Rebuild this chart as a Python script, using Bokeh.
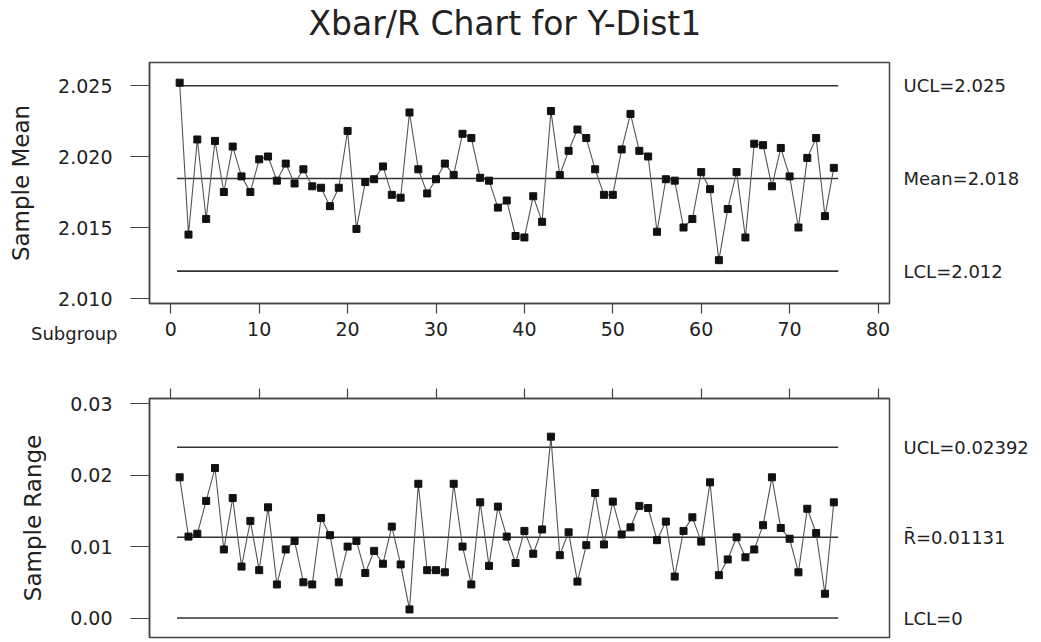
from bokeh.plotting import figure
from bokeh.models import Range1d, FixedTicker, NumeralTickFormatter, LinearAxis, Title
from bokeh.layouts import column
from bokeh.embed import file_html
from bokeh.resources import INLINE

# ---------------- data ----------------
subgroups = list(range(1, 76))
xbar = [2.0252, 2.0145, 2.0212, 2.0156, 2.0211, 2.0175, 2.0207, 2.0186, 2.0175, 2.0198,
        2.0200, 2.0183, 2.0195, 2.0181, 2.0191, 2.0179, 2.0178, 2.0165, 2.0178, 2.0218,
        2.0149, 2.0182, 2.0184, 2.0193, 2.0173, 2.0171, 2.0231, 2.0191, 2.0174, 2.0184,
        2.0195, 2.0187, 2.0216, 2.0213, 2.0185, 2.0183, 2.0164, 2.0169, 2.0144, 2.0143,
        2.0172, 2.0154, 2.0232, 2.0187, 2.0204, 2.0219, 2.0213, 2.0191, 2.0173, 2.0173,
        2.0205, 2.0230, 2.0204, 2.0200, 2.0147, 2.0184, 2.0183, 2.0150, 2.0156, 2.0189,
        2.0177, 2.0127, 2.0163, 2.0189, 2.0143, 2.0209, 2.0208, 2.0179, 2.0206, 2.0186,
        2.0150, 2.0199, 2.0213, 2.0158, 2.0192]
sample_range = [0.0197, 0.0114, 0.0118, 0.0164, 0.0210, 0.0096, 0.0168, 0.0072, 0.0136, 0.0067,
                0.0155, 0.0047, 0.0096, 0.0108, 0.0050, 0.0047, 0.0140, 0.0116, 0.0050, 0.0100,
                0.0108, 0.0063, 0.0094, 0.0076, 0.0128, 0.0075, 0.0012, 0.0188, 0.0067, 0.0067,
                0.0064, 0.0188, 0.0100, 0.0047, 0.0162, 0.0073, 0.0156, 0.0114, 0.0077, 0.0122,
                0.0090, 0.0124, 0.0254, 0.0088, 0.0120, 0.0051, 0.0102, 0.0175, 0.0103, 0.0163,
                0.0117, 0.0127, 0.0157, 0.0154, 0.0109, 0.0135, 0.0058, 0.0122, 0.0141, 0.0107,
                0.0190, 0.0060, 0.0082, 0.0113, 0.0085, 0.0096, 0.0130, 0.0197, 0.0126, 0.0111,
                0.0064, 0.0153, 0.0119, 0.0034, 0.0162]

xbar_limits = [2.02498, 2.01845, 2.01193]          # UCL, center, LCL
xbar_limit_labels = ["UCL=2.025", "Mean=2.018", "LCL=2.012"]
range_limits = [0.02392, 0.01131, 0.0]
range_limit_labels = ["UCL=0.02392", "R\u0304=0.01131", "LCL=0"]

x_ticks = [0, 10, 20, 30, 40, 50, 60, 70, 80]
mean_ticks = [2.010, 2.015, 2.020, 2.025]
range_ticks = [0.00, 0.01, 0.02, 0.03]

title_text = "Xbar/R Chart for Y-Dist1"
x_axis_name = "Subgroup"

# ---------------- style ----------------
FONT = "DejaVu Sans"
TXT = "#222222"
FRAME = "#444444"
LIMIT_COLOR = "#333333"
W = 1041
BL, BR = 149, 152

x_range = Range1d(-2.41, 81.30)
line_start = subgroups[0] - 0.3
line_end = subgroups[-1] + 0.5


def base_style(p):
    p.xgrid.visible = False
    p.ygrid.visible = False
    p.background_fill_color = "white"
    p.border_fill_color = "white"
    for ax in list(p.xaxis) + list(p.yaxis):
        ax.axis_line_color = FRAME
        ax.axis_line_width = 1.5
        ax.major_tick_line_color = FRAME
        ax.major_tick_line_width = 1.2
        ax.minor_tick_line_color = None
        ax.major_tick_in = 0
        ax.major_label_text_font = FONT
        ax.major_label_text_font_size = "19px"
        ax.major_label_text_color = TXT
        ax.axis_label_text_font = FONT
        ax.axis_label_text_font_style = "normal"
        ax.axis_label_text_color = TXT


def chart_style(p, yticks, fmt, ylabel):
    base_style(p)
    p.outline_line_color = FRAME
    p.outline_line_width = 1.5
    for ax in p.yaxis:
        ax.ticker = FixedTicker(ticks=yticks)
        ax.formatter = NumeralTickFormatter(format=fmt)
        ax.major_tick_out = 19
        ax.major_label_standoff = 18
        ax.axis_label = ylabel
        ax.axis_label_text_font_size = "23px"
        ax.axis_label_standoff = 21
    for ax in p.xaxis:
        ax.ticker = FixedTicker(ticks=x_ticks)
        ax.major_tick_out = 10
        ax.major_label_standoff = 0
        ax.major_label_text_font_size = "0px"
        ax.major_label_overrides = {t: "" for t in x_ticks}


def draw_chart(p, values, limits, limit_labels):
    for lim in limits:
        p.line([line_start, line_end], [lim, lim], line_color=LIMIT_COLOR, line_width=1.6)
    p.line(subgroups, values, line_color="#555555", line_width=1.1)
    p.scatter(subgroups, values, marker="square", size=7, fill_color="#111111",
              line_color="#111111")
    right = LinearAxis(ticker=FixedTicker(ticks=limits),
                       major_label_overrides=dict(zip(limits, limit_labels)),
                       axis_line_color=None, major_tick_line_color=None,
                       minor_tick_line_color=None, major_tick_in=0, major_tick_out=0,
                       major_label_standoff=14, major_label_text_font=FONT,
                       major_label_text_font_size="18px", major_label_text_color=TXT)
    p.add_layout(right, "right")


# ---------------- top: sample mean ----------------
p1 = figure(width=W, height=316, x_range=x_range,
            y_range=Range1d(2.009648, 2.026620), output_backend="svg",
            toolbar_location=None, min_border_left=BL, min_border_right=BR,
            min_border_top=62, min_border_bottom=13, x_axis_location="below",
            title=Title(text=title_text, align="left", offset=159, vertical_align="top",
                        standoff=4, text_font=FONT, text_font_size="33px",
                        text_font_style="normal", text_color=TXT))
chart_style(p1, mean_ticks, "0.000", "Sample Mean")
draw_chart(p1, xbar, xbar_limits, xbar_limit_labels)
# invisible spacer between title and plot frame (hidden ticks, no labels, no line)
spacer = LinearAxis(ticker=FixedTicker(ticks=x_ticks), axis_line_color=None,
                    major_tick_line_color=None, minor_tick_line_color=None,
                    major_tick_in=0, major_tick_out=16, major_label_standoff=0,
                    major_label_text_font_size="0px",
                    major_label_overrides={t: "" for t in x_ticks})
p1.add_layout(spacer, "above")

# ---------------- middle strip: subgroup axis labels ----------------
pm = figure(width=W, height=36, x_range=x_range, y_range=Range1d(-1, 1),
            output_backend="svg", toolbar_location=None, title=None,
            min_border_left=BL, min_border_right=BR, min_border_top=7,
            min_border_bottom=9, x_axis_location="below")
base_style(pm)
pm.outline_line_color = None
pm.xaxis.ticker = FixedTicker(ticks=x_ticks)
pm.xaxis.axis_line_color = None
pm.xaxis.major_tick_line_color = None
pm.xaxis.major_tick_out = 0
pm.xaxis.major_label_standoff = -22
pm.yaxis.ticker = FixedTicker(ticks=[0])
pm.yaxis.major_label_overrides = {0: x_axis_name}
pm.yaxis.axis_line_color = None
pm.yaxis.major_tick_line_color = None
pm.yaxis.major_tick_out = 0
pm.yaxis.major_label_standoff = 32
pm.yaxis.major_label_text_font_size = "18px"

# ---------------- bottom: sample range ----------------
p2 = figure(width=W, height=290, title=None, x_range=x_range,
            y_range=Range1d(-0.002731, 0.030742), output_backend="svg",
            toolbar_location=None, min_border_left=BL, min_border_right=BR,
            min_border_top=46, min_border_bottom=5, x_axis_location="above")
chart_style(p2, range_ticks, "0.00", "Sample Range")
draw_chart(p2, sample_range, range_limits, range_limit_labels)

layout = column(p1, pm, p2, spacing=0)
open("out.html", "w").write(file_html(layout, INLINE))
